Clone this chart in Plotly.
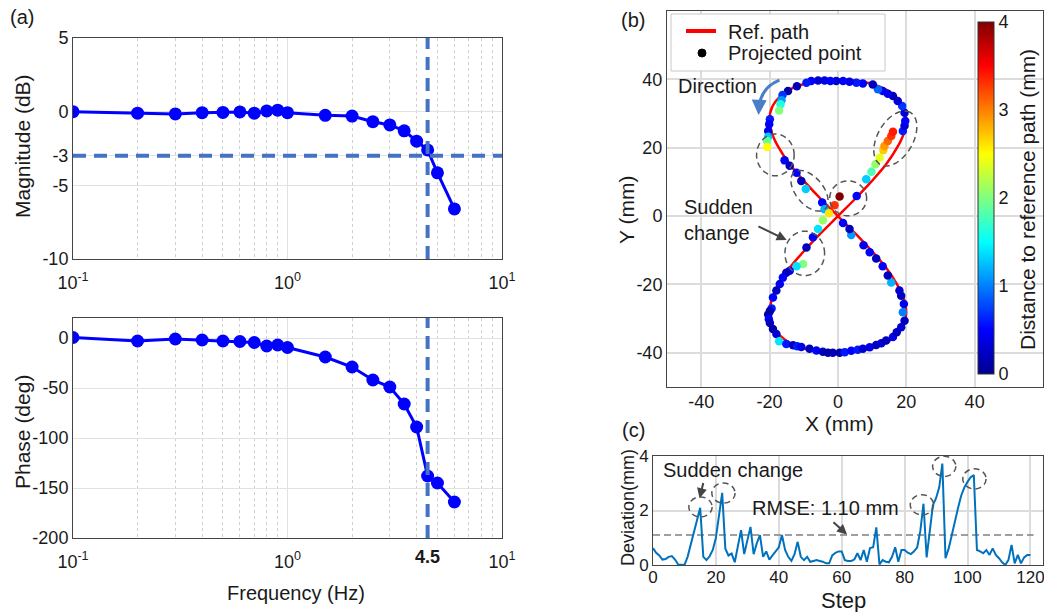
import numpy as np
import plotly.graph_objects as go

# ---------------- data ----------------
freq_hz = [0.1, 0.2, 0.3, 0.4, 0.5, 0.6, 0.7, 0.8, 0.9, 1.0, 1.5, 2.0, 2.5, 3.0, 3.5, 4.0, 4.5, 5.0, 6.0]
magnitude_db = [0.0, -0.1, -0.15, -0.07, -0.05, -0.02, -0.1, 0.05, 0.1, -0.07,
                -0.25, -0.3, -0.68, -0.9, -1.3, -2.0, -2.6, -4.15, -6.6]
phase_deg = [0.5, -3, -1, -2, -3, -3.5, -4.5, -8, -7, -9.5,
             -19, -29, -42, -49, -66, -89, -138, -145, -164]
cutoff_hz = 4.5
cutoff_db = -3
freq_minor = [0.2, 0.3, 0.4, 0.5, 0.6, 0.7, 0.8, 0.9, 2, 3, 4, 5, 6, 7, 8, 9]

ref_path_x = [0, 5, 9.7, 14, 17.3, 19.2, 20, 19.2, 15.7, 11.9, 6.2, 0, -6.2, -11.9, -15.7, -19.2, -20,
              -19.2, -17.3, -14, -9.7, -5, 0, 5, 9.7, 14, 17.3, 19.2, 20, 19.2, 15.7, 11.9, 6.2, 0,
              -6.2, -11.9, -15.7, -19.2, -20, -19.2, -17.3, -14, -9.7, -5, 0]
ref_path_y = [0, 5, 10, 15, 20, 24, 28.3, 32, 36, 38, 39.5, 40, 39.5, 38, 36, 32, 28.3,
              24, 20, 15, 10, 5, 0, -5, -10, -15, -20, -24, -28.3, -32, -36, -38, -39.5, -40,
              -39.5, -38, -36, -32, -28.3, -24, -20, -15, -10, -5, 0]

proj_x = [19.0, 19.5, 19.7, 19.5, 18.8, 17.5, 16.1, 14.6, 13.1, 11.7, 10.2, 7.3, 5.4, 3.4, 1.5, -0.5,
          -2.2, -3.9, -5.8, -7.8, -9.2, -12.0, -14.6, -16.2, -16.5, -16.8, -17.2, -19.9, -20.1, -20.4,
          -20.4, -20.7, -20.7, -15.6, -14.1, -12.1, -10.7, -9.4, -4.6, -3.9, -2.6, -4.4, -5.8, -7.3,
          -9.2, -10.2, -12.1, -14.1, -15.1, -16.1, -17.0, -18.0, -19.0, -19.4, -19.9, -20.4, -20.2,
          -19.9, -19.0, -18.0, -17.2, -15.1, -13.1, -11.9, -10.7, -8.3, -6.3, -4.4, -2.9, -1.5, 0.5,
          2.0, 3.9, 5.8, 7.3, 9.3, 11.2, 12.7, 14.1, 16.1, 17.2, 18.5, 19.5, 19.0, 19.3, 18.5, 18.0,
          15.6, 14.6, 13.1, 11.2, 9.3, 7.5, 3.9, 3.4, 1.5, -1.0, 0.5, 5.5, 8.3, 9.8, 11.0, 12.2, 13.3,
          13.6, 14.6, 15.6, 16.1]
proj_y = [24.9, 26.4, 27.8, 30.2, 32.2, 33.7, 35.1, 35.8, 36.6, 37.1, 38.5, 38.8, 39.0, 39.3, 39.5, 39.5,
          39.5, 39.7, 39.7, 39.5, 39.0, 38.0, 36.6, 35.4, 33.9, 32.7, 30.9, 28.3, 26.9, 24.9,
          23.2, 22.0, 20.2, 16.3, 14.7, 12.7, 10.3, 7.9, 4.0, 2.0, 0.8, -1.2, -3.8, -6.2,
          -9.2, -14.0, -14.7, -16.0, -16.6, -18.0, -19.9, -21.8, -23.8, -27.0, -27.8, -28.8, -30.2,
          -31.3, -33.0, -34.5, -36.6, -37.4, -37.8, -38.1, -38.3, -38.8, -39.3, -39.7, -40.0, -40.0, -40.0,
          -39.8, -39.4, -39.1, -38.8, -38.4, -37.7, -37.2, -36.4, -35.4, -34.0, -32.5, -30.6, -28.1, -25.7, -23.3, -21.8,
          -19.4, -17.4, -14.7, -12.4, -10.6, -8.5, -5.5, -3.8, -2.0, 3.2, 5.7, 5.9, 10.8, 13.0, 15.2, 17.1, 19.3,
          20.5, 22.0, 23.4, 24.7]
proj_dist = [0.6, 0.3, 0.5, 0.3, 0.7, 0.3, 0.2, 0.4, 0.5, 0.9, 0.2, 0.5, 0.6, 0.4, 0.5, 0.3,
             0.5, 0.4, 0.3, 0.5, 0.6, 0.2, 0.1, 0.7, 1.1, 1.6, 2.0, 0.6, 0.5, 0.4,
             1.3, 1.9, 2.5, 0.5, 0.2, 0.5, 0.2, 1.3, 0.5, 1.2, 2.6, 2.1, 1.4, 0.5,
             0.2, 2.0, 1.4, 0.5, 0.2, 0.5, 0.4, 0.2, 0.5, 0.6, 0.2, 0.1, 0.5,
             0.2, 0.1, 0.3, 1.4, 0.6, 0.2, 0.6, 0.4, 0.2, 0.5, 0.2, 0.1, 0.2, 0.1,
             0.6, 0.5, 0.6, 0.3, 0.4, 0.2, 0.3, 0.2, 0.4, 0.2, 0.3, 0.2, 1.0, 0.4, 0.2, 0.3,
             1.2, 0.2, 0.5, 0.2, 0.5, 0.4, 1.1, 0.2, 0.5, 3.3, 4.0, 0.5, 1.3, 1.8, 2.1, 2.4, 2.7,
             2.9, 3.1, 3.3, 3.4]

deviation_mm = [0.62, 0.45, 0.35, 0.2, 0.22, 0.3, 0.33, 0.2, 0.02, 0.0,
                0.0, 0.3, 0.75, 1.2, 1.6, 2.1, 0.3, 0.18, 0.32, 0.55,
                1.0, 1.8, 2.65, 0.6, 0.35, 0.42, 0.1, 0.7, 1.28, 0.4,
                0.9, 1.4, 0.4, 0.8, 1.1, 0.3, 0.5, 0.2, 0.35, 0.5,
                0.65, 1.1, 0.55, 0.3, 0.15, 0.4, 0.85, 0.3, 0.18, 0.3,
                0.12, 0.15, 0.18, 0.15, 0.12, 0.06, 0.06, 0.35, 0.45, 0.5,
                0.5, 0.18, 0.15, 0.15, 0.2, 0.43, 0.18, 0.55, 0.12, 0.62,
                0.65, 1.38, 0.02, 0.18, 0.12, 0.1, 0.3, 0.65, 0.12, 0.55,
                0.55, 0.45, 0.4, 0.5, 0.65, 1.25, 2.25, 0.28, 1.3, 2.2,
                2.45, 2.85, 3.72, 0.25, 0.6, 1.1, 1.7, 2.1, 2.55, 2.85,
                3.05, 3.22, 3.3, 0.55, 0.5, 0.43, 0.55, 0.37, 0.61, 0.37,
                0.25, 0.1, 0.0, 0.18, 0.74, 0.06, 0.37, 0.06, 0.28, 0.37,
                0.37]
steps = list(range(len(deviation_mm)))
rmse_mm = 1.10

# ---------------- layout helpers ----------------
W, H = 1044, 612
def px(x):
    return x / W
def py(y):
    return 1 - y / H

FONT = "Liberation Sans, Arial, sans-serif"
TXT = '#1a1a1a'
JET = [[0, '#00008F'], [0.125, '#0000FF'], [0.375, '#00FFFF'], [0.625, '#FFFF00'],
       [0.875, '#FF0000'], [1, '#800000']]
DASHBLUE = '#4472C4'

fig = go.Figure()

# (a) magnitude
fig.add_trace(go.Scatter(x=freq_hz, y=magnitude_db, mode='lines+markers',
                         line=dict(color='#0000FF', width=3), marker=dict(size=13, color='#0000FF'),
                         xaxis='x', yaxis='y', showlegend=False))
fig.add_trace(go.Scatter(x=[0.1, 10], y=[cutoff_db, cutoff_db], mode='lines',
                         line=dict(color=DASHBLUE, width=4, dash='13px,8px'),
                         xaxis='x', yaxis='y', showlegend=False))
fig.add_trace(go.Scatter(x=[cutoff_hz, cutoff_hz], y=[-10, 5], mode='lines',
                         line=dict(color=DASHBLUE, width=4, dash='13px,8px'),
                         xaxis='x', yaxis='y', showlegend=False))
# (a) phase
fig.add_trace(go.Scatter(x=freq_hz, y=phase_deg, mode='lines+markers',
                         line=dict(color='#0000FF', width=3), marker=dict(size=13, color='#0000FF'),
                         xaxis='x2', yaxis='y2', showlegend=False))
fig.add_trace(go.Scatter(x=[cutoff_hz, cutoff_hz], y=[-200, 20], mode='lines',
                         line=dict(color=DASHBLUE, width=4, dash='13px,8px'),
                         xaxis='x2', yaxis='y2', showlegend=False))

# (b) path and projected points
fig.add_trace(go.Scatter(x=ref_path_x, y=ref_path_y, mode='lines', name='Ref. path',
                         line=dict(color='#FF0000', width=2.5, shape='spline', smoothing=1.0),
                         xaxis='x3', yaxis='y3', showlegend=False))
fig.add_trace(go.Scatter(x=proj_x, y=proj_y, mode='markers', name='Projected point', showlegend=False,
                         marker=dict(size=8.5, color=proj_dist, colorscale=JET, cmin=0, cmax=4,
                                     line=dict(width=0),
                                     colorbar=dict(x=px(978), xanchor='left', thickness=16, thicknessmode='pixels',
                                                   len=352 / H, lenmode='fraction', y=py(198), yanchor='middle',
                                                   xpad=0, ypad=0, outlinewidth=1, outlinecolor='#333',
                                                   tickvals=[0, 1, 2, 3, 4], ticks='',
                                                   tickfont=dict(size=18, family=FONT, color=TXT))),
                         xaxis='x3', yaxis='y3'))

# (c) deviation
fig.add_trace(go.Scatter(x=[0, 121], y=[rmse_mm, rmse_mm], mode='lines',
                         line=dict(color='#808080', width=1.5, dash='7px,4px'),
                         xaxis='x4', yaxis='y4', showlegend=False))
fig.add_trace(go.Scatter(x=steps, y=deviation_mm, mode='lines',
                         line=dict(color='#0072BD', width=2),
                         xaxis='x4', yaxis='y4', showlegend=False))

tickfont = dict(size=18, family=FONT, color=TXT)
tickfont_c = dict(size=17, family=FONT, color=TXT)
common = dict(showline=True, mirror=True, linecolor='#444', linewidth=1, ticks='', zeroline=False,
              automargin=False, ticklabeloverflow='allow')

log_x = dict(type='log', range=[-1, 1], domain=[px(73), px(502)],
             tickvals=[0.1, 1, 10], ticktext=['10<sup>-1</sup>', '10<sup>0</sup>', '10<sup>1</sup>'],
             showgrid=True, gridcolor='#E2E2E2', gridwidth=1, ticklabelstandoff=7,
             minor=dict(tickvals=freq_minor, showgrid=True, gridcolor='#CFCFCF', griddash='dot', ticks=''),
             tickfont=tickfont, **common)

fig.update_layout(
    width=W, height=H, margin=dict(l=0, r=0, t=0, b=0, autoexpand=False),
    paper_bgcolor='white', plot_bgcolor='white', showlegend=False,
    font=dict(family=FONT, color=TXT),
    xaxis=dict(anchor='y', **log_x),
    yaxis=dict(anchor='x', range=[-10, 5], domain=[py(259), py(38)],
               tickvals=[5, 0, -3, -5, -10], ticktext=['5', '0', '-3', '-5', '-10'],
               showgrid=True, gridcolor='#E2E2E2', tickfont=tickfont, **common),
    xaxis2=dict(anchor='y2', **log_x),
    yaxis2=dict(anchor='x2', range=[-200, 20], domain=[py(538), py(318)],
                tickvals=[0, -50, -100, -150, -200], ticktext=['0', '-50', '-100', '-150', '-200'],
                showgrid=True, gridcolor='#E2E2E2', tickfont=tickfont, **common),
    xaxis3=dict(anchor='y3', range=[-50, 60], domain=[px(667), px(1043)],
                tickvals=[-40, -20, 0, 20, 40], ticktext=['-40', '-20', '0', '20', '40'],
                ticklabelstandoff=-2,
                showgrid=True, gridcolor='#DCDCDC', gridwidth=1.5, tickfont=tickfont, **common),
    yaxis3=dict(anchor='x3', range=[-50, 60], domain=[py(387), py(11)],
                tickvals=[-40, -20, 0, 20, 40], ticktext=['-40', '-20', '0', '20', '40'],
                showgrid=True, gridcolor='#DCDCDC', gridwidth=1.5, tickfont=tickfont, **common),
    xaxis4=dict(anchor='y4', range=[0, 124], domain=[px(653), px(1043)],
                tickvals=[0, 20, 40, 60, 80, 100, 120], ticklabelstandoff=-3,
                showgrid=True, gridcolor='#DCDCDC', gridwidth=1.5, tickfont=tickfont_c, **common),
    yaxis4=dict(anchor='x4', range=[0, 4], domain=[py(565), py(456)],
                tickvals=[0, 2, 4],
                showgrid=True, gridcolor='#DCDCDC', gridwidth=1.5, tickfont=tickfont_c, **common),
)

ann = []
def label(text, x, y, size, angle=0, xanchor='center', **kw):
    ann.append(dict(text=text, x=px(x), y=py(y), xref='paper', yref='paper', showarrow=False,
                    textangle=angle, font=dict(size=size, family=FONT, color=TXT),
                    xanchor=xanchor, yanchor='middle', **kw))

label('(a)', 22, 17, 20)
label('(b)', 633, 20, 20)
label('(c)', 633, 430, 20)
label('Magnitude (dB)', 22, 146, 21, angle=-90)
label('Phase (deg)', 22, 432, 21, angle=-90)
label('Frequency (Hz)', 296, 593, 20)
label('<b>4.5</b>', 427, 557, 18)
label('Y (mm)', 626, 210, 21, angle=-90)
label('X (mm)', 839, 423, 21)
label('Distance to reference path (mm)', 1028, 200, 21, angle=-90)
label('Deviation(mm)', 628, 508, 18, angle=-90)
label('Step', 843, 600, 22)
# manual legend texts
label('Ref. path', 726, 32, 20, xanchor='left')
label('Projected point', 726, 53, 20, xanchor='left')

# (b) text annotations
ann.append(dict(text='Direction', x=-35.1, y=38.0, xref='x3', yref='y3', showarrow=False,
                font=dict(size=20, family=FONT, color=TXT)))
ann.append(dict(text='Sudden<br>change', x=-34.9, y=-1.1, xref='x3', yref='y3', showarrow=False,
                align='left', font=dict(size=20, family=FONT, color=TXT)))
ann.append(dict(text='', x=-15.0, y=-7.0, ax=-23.7, ay=-2.8, xref='x3', yref='y3',
                axref='x3', ayref='y3', showarrow=True, arrowhead=2, arrowsize=1, arrowwidth=2,
                arrowcolor='#444'))
ann.append(dict(text='', x=-23.2, y=29.6, ax=-23.1, ay=32.0, xref='x3', yref='y3',
                axref='x3', ayref='y3', showarrow=True, arrowhead=2, arrowsize=1, arrowwidth=3,
                arrowcolor='#4A7EC8'))

# (c) text annotations
ann.append(dict(text='Sudden change', x=25.4, y=3.5, xref='x4', yref='y4', showarrow=False,
                font=dict(size=20, family=FONT, color=TXT)))
ann.append(dict(text='', x=14.8, y=2.45, ax=16.1, ay=3.06, xref='x4', yref='y4',
                axref='x4', ayref='y4', showarrow=True, arrowhead=2, arrowsize=1, arrowwidth=2,
                arrowcolor='#444'))
ann.append(dict(text='RMSE: 1.10 mm', x=55.0, y=2.1, xref='x4', yref='y4', showarrow=False,
                font=dict(size=20, family=FONT, color=TXT)))
ann.append(dict(text='', x=61.7, y=1.12, ax=56.9, ay=1.62, xref='x4', yref='y4',
                axref='x4', ayref='y4', showarrow=True, arrowhead=2, arrowsize=1, arrowwidth=2,
                arrowcolor='#444'))
fig.update_layout(annotations=ann)

# shapes: dashed circles, direction curve, legend box
def ellipse_path(cx, cy, a, b, ang):
    t = np.linspace(0, 2 * np.pi, 61)
    c, s = np.cos(np.radians(ang)), np.sin(np.radians(ang))
    xs = cx + a * np.cos(t) * c - b * np.sin(t) * s
    ys = cy + a * np.cos(t) * s + b * np.sin(t) * c
    return 'M ' + ' L '.join(f'{x:.2f},{y:.2f}' for x, y in zip(xs, ys)) + ' Z'

circ_line = dict(color='#555555', width=1.5, dash='6px,4px')
shapes = []
for (cx, cy, a, b, ang) in [(-18.3, 17.9, 5.5, 6.1, 0), (16.8, 22.7, 8.8, 5.2, 60),
                            (-8.3, 7.4, 7.0, 4.0, -50), (3.0, 5.2, 5.4, 5.1, 0),
                            (-9.7, -10.9, 5.8, 6.5, 0)]:
    shapes.append(dict(type='path', path=ellipse_path(cx, cy, a, b, ang), xref='x3', yref='y3',
                       line=circ_line))
for (cx, cy) in [(15.1, 2.13), (22.4, 2.64), (85.5, 2.21), (92.6, 3.62), (102.2, 3.16)]:
    shapes.append(dict(type='circle', x0=cx - 3.7, x1=cx + 3.7, y0=cy - 0.37, y1=cy + 0.37,
                       xref='x4', yref='y4', line=circ_line))
shapes.append(dict(type='path', path='M -17.1,39.8 Q -22.9,37.5 -23.1,31.0', xref='x3', yref='y3',
                   line=dict(color='#4A7EC8', width=3)))
# legend box
shapes.append(dict(type='rect', xref='paper', yref='paper', x0=px(671), x1=px(885), y0=py(71), y1=py(14),
                   fillcolor='white', line=dict(color='#C8C8C8', width=1), layer='above'))
shapes.append(dict(type='line', xref='paper', yref='paper', x0=px(686), x1=px(716), y0=py(31), y1=py(31),
                   line=dict(color='#FF0000', width=4), layer='above'))
shapes.append(dict(type='circle', xref='paper', yref='paper', x0=px(698), x1=px(706), y0=py(57), y1=py(49),
                   fillcolor='black', line=dict(color='black', width=1), layer='above'))
fig.update_layout(shapes=shapes)

fig.write_html('out.html')
